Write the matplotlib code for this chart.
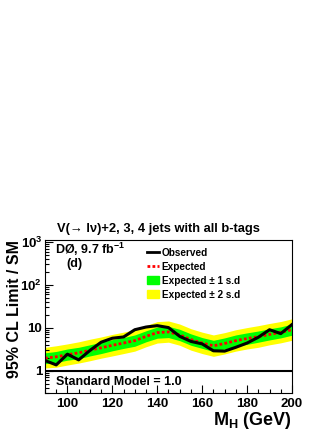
import matplotlib
matplotlib.use('Agg')
import numpy as np
import matplotlib.pyplot as plt
from matplotlib.lines import Line2D
from matplotlib.patches import Patch
from matplotlib.ticker import FixedLocator, FixedFormatter, MultipleLocator, LogLocator, NullFormatter

plt.rcParams['font.family'] = ['Liberation Sans', 'DejaVu Sans']
plt.rcParams['font.weight'] = 'bold'
plt.rcParams['mathtext.fontset'] = 'custom'
plt.rcParams['mathtext.rm'] = 'Liberation Sans:bold'
plt.rcParams['mathtext.bf'] = 'Liberation Sans:bold'
plt.rcParams['mathtext.default'] = 'bf'

# masses (GeV)
mh = [90, 95, 100, 105, 110, 115, 120, 125, 130, 135, 140, 145, 150,
      155, 160, 165, 170, 175, 180, 185, 190, 195, 200]
# observed limit / SM
obs = [1.72, 1.36, 2.42, 1.78, 2.95, 4.6, 5.7, 6.1, 9.0, 10.4, 11.2, 10.1, 6.3,
       4.8, 4.2, 2.9, 2.85, 3.5, 4.4, 6.0, 9.0, 7.3, 11.9]
# expected limit / SM
exp_ = [1.95, 2.1, 2.35, 2.6, 3.0, 3.4, 3.9, 4.4, 5.0, 6.3, 7.7, 8.0, 6.8,
        5.3, 4.4, 3.8, 4.3, 5.0, 5.6, 6.2, 7.0, 7.8, 9.0]
# +-1 s.d.
g_hi = [2.6, 2.8, 3.2, 3.5, 4.0, 4.6, 5.3, 5.9, 6.8, 8.5, 10.4, 10.8, 9.2,
        7.2, 5.9, 5.1, 5.8, 6.8, 7.6, 8.4, 9.5, 10.5, 12.2]
g_lo = [1.45, 1.55, 1.75, 1.9, 2.2, 2.5, 2.9, 3.3, 3.7, 4.7, 5.7, 5.9, 5.0,
        3.9, 3.3, 2.8, 3.2, 3.7, 4.1, 4.6, 5.2, 5.8, 6.7]
# +-2 s.d.
y_hi = [3.5, 3.8, 4.2, 4.7, 5.4, 6.1, 7.0, 7.9, 9.0, 11.3, 13.9, 14.4, 12.2,
        9.5, 7.9, 6.8, 7.7, 9.0, 10.1, 11.2, 12.6, 14.0, 16.2]
y_lo = [1.15, 1.2, 1.35, 1.5, 1.7, 1.95, 2.2, 2.5, 2.85, 3.6, 4.4, 4.6, 3.9,
        3.0, 2.5, 2.15, 2.45, 2.85, 3.2, 3.5, 4.0, 4.45, 5.1]

ytick_vals = [1, 10, 100, 1000]
ytick_labels = ['1', '10', r'$10^{2}$', r'$10^{3}$']

fig = plt.figure(figsize=(3.32, 4.30), dpi=100)
ax = fig.add_axes([0.1355, 0.086, 0.744, 0.356])

ax.fill_between(mh, y_lo, y_hi, color='#ffff00', lw=0)
ax.fill_between(mh, g_lo, g_hi, color='#00ff00', lw=0)
ax.plot(mh, exp_, color='red', ls=(0, (1, 0.8)), lw=2)
ax.plot(mh, obs, color='black', lw=2.2)
ax.axhline(1.0, color='black', lw=1.5)

ax.set_yscale('log')
ax.set_xlim(90, 200)
ax.set_ylim(0.3, 1120)

ax.yaxis.set_major_locator(FixedLocator(ytick_vals))
ax.yaxis.set_major_formatter(FixedFormatter(ytick_labels))
ax.yaxis.set_minor_locator(LogLocator(base=10, subs=np.arange(2, 10)))
ax.yaxis.set_minor_formatter(NullFormatter())
ax.xaxis.set_major_locator(MultipleLocator(20))
ax.xaxis.set_minor_locator(MultipleLocator(5))
ax.tick_params(which='both', direction='in', top=False, right=False, labelsize=9.5, width=0.8)
ax.tick_params(which='major', length=6)
ax.tick_params(which='minor', length=3)
ax.tick_params(axis='y', pad=2)
for s in ax.spines.values():
    s.set_linewidth(0.8)

ax.set_ylabel('95% CL Limit / SM', fontsize=11.5, fontweight='bold', va='center')
ax.yaxis.set_label_coords(-0.122, 0.55)
ax.set_xlabel(r'M$_{\mathbf{H}}$ (GeV)', fontsize=13, fontweight='bold', loc='right', labelpad=0)

fig.text(0.172, 0.468, 'V(→ lν)+2, 3, 4 jets with all b-tags',
         fontsize=9.3, fontweight='bold', va='center')
ax.text(0.04, 0.935, r'DØ, 9.7 fb$^{-1}$', transform=ax.transAxes, fontsize=9,
        fontweight='bold', va='center')
ax.text(0.085, 0.845, '(d)', transform=ax.transAxes, fontsize=9,
        fontweight='bold', va='center')
ax.text(0.045, 0.075, 'Standard Model = 1.0', transform=ax.transAxes, fontsize=9,
        fontweight='bold', va='center')

handles = [Line2D([], [], color='black', lw=2),
           Line2D([], [], color='red', ls=(0, (1, 0.8)), lw=2),
           Patch(color='#00ff00'),
           Patch(color='#ffff00')]
labels = ['Observed', 'Expected', 'Expected ± 1 s.d', 'Expected ± 2 s.d']
ax.legend(handles, labels, loc='upper left', bbox_to_anchor=(0.413, 0.95), frameon=False,
          fontsize=7.2, handlelength=1.15, handleheight=0.9, handletextpad=0.3,
          labelspacing=0.4, borderaxespad=0, borderpad=0)

fig.savefig('out.png', dpi=100)
